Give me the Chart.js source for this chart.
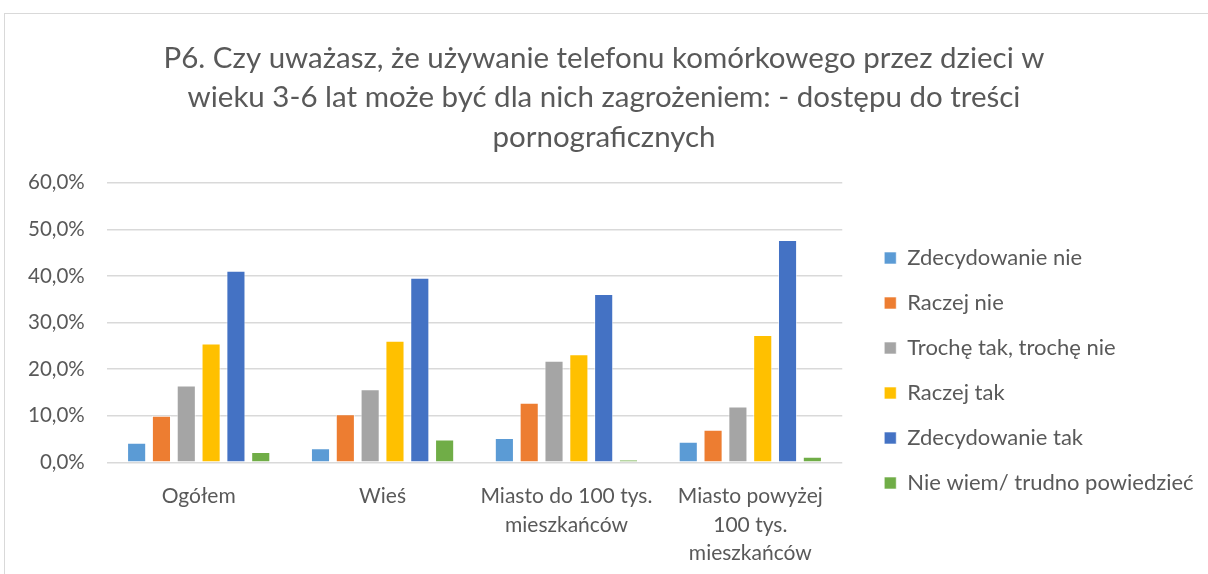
<!DOCTYPE html>
<html>
<head>
<meta charset="utf-8">
<script src="https://cdn.jsdelivr.net/npm/chart.js@4/dist/chart.umd.min.js"></script>
<style>
  html, body { margin: 0; padding: 0; background: #fff; }
  #wrap { position: relative; width: 1208px; height: 574px; overflow: hidden; }
  #frame { position: absolute; left: 4px; top: 13px; width: 1300px; height: 700px; border: 1px solid #d9d9d9; }
  canvas { position: absolute; left: 0; top: 0; }
</style>
</head>
<body>
<div id="wrap">
  <div id="frame"></div>
  <canvas id="chart" width="1208" height="574"></canvas>
</div>
<script>
// Categories (x axis)
const categories = [
  'Ogółem',
  'Wieś',
  ['Miasto do 100 tys.', 'mieszkańców'],
  ['Miasto powyżej', '100 tys.', 'mieszkańców']
];

// Series values, in percent
const zdecydowanieNie = [4.2, 3.0, 5.2, 4.4];
const raczejNie = [10.0, 10.3, 12.8, 7.0];
const trocheTakTrocheNie = [16.5, 15.7, 21.8, 12.0];
const raczejTak = [25.5, 26.1, 23.2, 27.3];
const zdecydowanieTak = [41.1, 39.6, 36.1, 47.7];
const nieWiem = [2.2, 4.9, 0.6, 1.2];

const seriesNames = [
  'Zdecydowanie nie',
  'Raczej nie',
  'Trochę tak, trochę nie',
  'Raczej tak',
  'Zdecydowanie tak',
  'Nie wiem/ trudno powiedzieć'
];
const seriesColors = ['#5b9bd5', '#ed7d31', '#a5a5a5', '#ffc000', '#4472c4', '#70ad47'];

const titleLines = [
  'P6. Czy uważasz, że używanie telefonu komórkowego przez dzieci w',
  'wieku 3-6 lat może być dla nich zagrożeniem: - dostępu do treści',
  'pornograficznych'
];

const textColor = '#595959';
const fontFamily = 'Lato, "Open Sans", sans-serif';

const allValues = [zdecydowanieNie, raczejNie, trocheTakTrocheNie, raczejTak, zdecydowanieTak, nieWiem];

const datasets = allValues.map((values, i) => ({
  label: seriesNames[i],
  data: values,
  backgroundColor: seriesColors[i],
  borderColor: 'rgba(255,255,255,0.6)',
  borderWidth: 1,
  categoryPercentage: 0.81,
  barPercentage: 0.77
}));

// Title centred on the whole canvas, legend moved a bit away from the plot
// and allowed to use the space up to the right edge (no clipping)
const layoutTweaks = {
  id: 'layoutTweaks',
  afterLayout(chart) {
    const title = chart.titleBlock;
    title.left = 0;
    title.right = chart.width;
    title.width = chart.width;

    const legend = chart.legend;
    const dx = 19;
    const dy = 224 - legend.top;
    legend.left += dx;
    legend.right = chart.width;
    legend.width = legend.right - legend.left;
    legend.top += dy;
    legend.bottom += dy;
  }
};

new Chart(document.getElementById('chart'), {
  type: 'bar',
  data: {
    labels: categories,
    datasets: datasets
  },
  options: {
    responsive: false,
    animation: false,
    layout: {
      padding: { left: 6, right: 87, top: 0, bottom: -6 }
    },
    scales: {
      x: {
        grid: { display: false },
        border: { display: false },
        ticks: {
          color: textColor,
          font: { family: fontFamily, size: 21, lineHeight: 1.36 },
          maxRotation: 0,
          autoSkip: false,
          padding: 12
        }
      },
      y: {
        min: 0,
        max: 60,
        ticks: {
          stepSize: 10,
          color: textColor,
          font: { family: fontFamily, size: 20.5 },
          padding: 22,
          callback: (v) => v.toFixed(1).replace('.', ',') + '%'
        },
        grid: { color: '#d9d9d9', lineWidth: 1.5, drawTicks: false },
        border: { display: false }
      }
    },
    plugins: {
      title: {
        display: true,
        text: titleLines,
        color: textColor,
        font: { family: fontFamily, size: 29.5, weight: 'normal', lineHeight: 1.33 },
        padding: { top: 39, bottom: 26 }
      },
      legend: {
        position: 'right',
        align: 'start',
        labels: {
          color: textColor,
          font: { family: fontFamily, size: 22 },
          boxWidth: 12,
          boxHeight: 12,
          padding: 23
        }
      },
      tooltip: { enabled: false }
    }
  },
  plugins: [layoutTweaks]
});
</script>
</body>
</html>
